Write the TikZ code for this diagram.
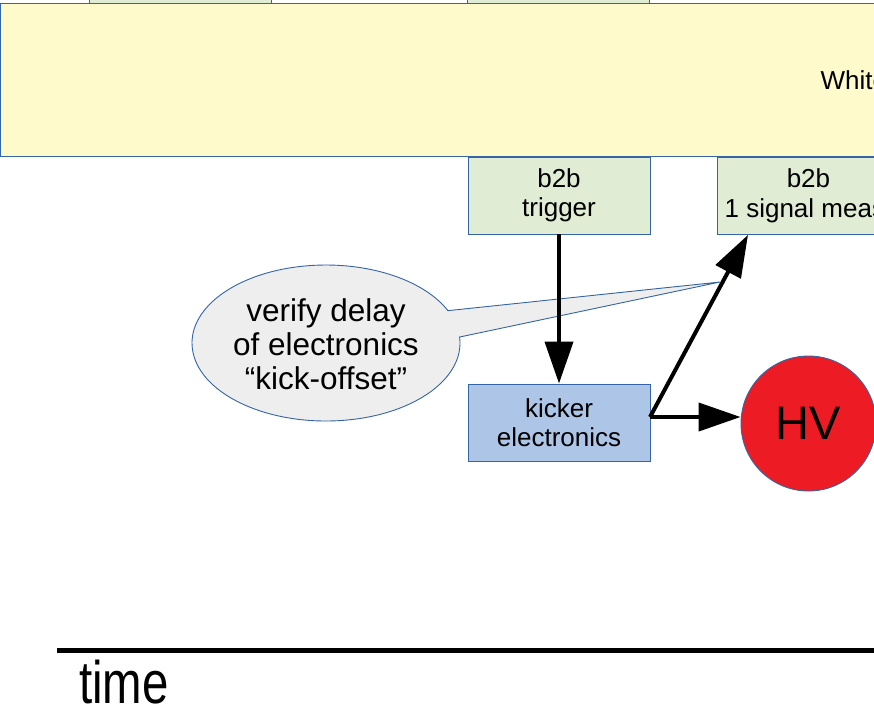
\documentclass[tikz,border=0pt]{standalone}
\usepackage{fontspec}
\setmainfont{Liberation Sans}
\usetikzlibrary{arrows.meta}
\definecolor{yel}{RGB}{255,250,204}
\definecolor{grn}{RGB}{224,236,212}
\definecolor{blu}{RGB}{173,197,231}
\definecolor{hvred}{RGB}{237,28,36}
\definecolor{callgray}{RGB}{238,238,238}
\definecolor{edge}{RGB}{52,101,164}
\tikzset{
  boxtxt/.style={font=\fontsize{26}{29.5}\selectfont, align=center},
  greenbox/.style={draw=edge, line width=0.9pt, fill=grn, minimum width=182pt, minimum height=77pt, inner sep=0pt, boxtxt},
  bluebox/.style={draw=edge, line width=0.9pt, fill=blu, minimum width=182pt, minimum height=77pt, inner sep=0pt, boxtxt},
  arr/.style={line width=4pt, -{Triangle[length=42pt,width=28pt]}},
  thin edge/.style={draw=edge, line width=0.9pt}
}
\begin{document}
\begin{tikzpicture}[x=1pt,y=-1pt]
\clip (0,0) rectangle (874,721);
\fill[white] (0,0) rectangle (874,721);
% partly visible boxes above
\draw[thin edge, fill=grn] (89,-30) rectangle (271,3);
\draw[thin edge, fill=grn] (467,-30) rectangle (649,3);
% yellow band
\draw[thin edge, fill=yel] (0.5,3) rectangle (950,156);
\node[boxtxt, anchor=west] (wr) at (817,80) {White Rabbit};
% boxes
\node[greenbox] (trig) at (559,195.5) {b2b\\trigger};
\node[greenbox, anchor=north west] (meas) at (717,157) {b2b\\1 signal meas.};
\node[bluebox] (kick) at (559,422.5) {kicker\\electronics};
\node[circle, draw=edge, line width=0.9pt, fill=hvred, minimum size=135pt, inner sep=0pt, font=\fontsize{47}{50}\selectfont] (hv) at (808.5,423.5) {HV};
% callout
\draw[thin edge, fill=callgray] (326,343) ++(-4.4:134 and 78) arc[start angle=-4.4, end angle=335.5, x radius=134, y radius=78] -- (720,282) -- cycle;
\node[font=\fontsize{31.5}{34}\selectfont, align=center] (note) at (326,344) {verify delay\\of electronics\\“kick-offset”};
% arrows
\coordinate (kout) at (650,417);
\coordinate (measin) at ([xshift=31pt]meas.south west);
\draw[arr] (trig.south) -- (kick.north);
\draw[arr] (kout) -- (hv.west |- kout);
\draw[arr] (kout) -- (measin);
% time axis
\coordinate (t0) at (57,650.5);
\coordinate (t1) at (900,650.5);
\draw[line width=4.5pt] (t0) -- (t1);
\node[anchor=base west, inner sep=0pt, xscale=0.79, font=\fontsize{60}{60}\selectfont] (time) at (79,703) {time};
\end{tikzpicture}
\end{document}
